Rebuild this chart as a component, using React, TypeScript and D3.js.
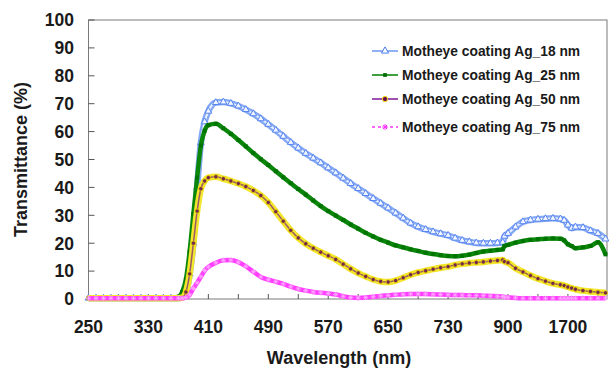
import React from "react";
import * as d3 from "d3";

// Wavelength sample points (nm)
const wavelengths = [
  250, 260, 270, 280, 290, 300, 310, 320, 330, 340, 350, 360, 370,
  375, 380, 385, 390, 395, 400, 405, 410,
  420, 430, 440, 450, 460, 470, 480, 490, 500, 510,
  520, 530, 540, 550, 560, 570, 580, 590, 600, 610,
  620, 630, 640, 650, 660, 670, 680, 690, 700, 710,
  720, 730,
  750, 770, 790, 810, 830, 850, 870,
  885, 890, 900,
  1000, 1100, 1200, 1300, 1400, 1500, 1600, 1650, 1700,
  1750, 1800, 1900, 2000, 2100, 2200,
];

const ag18 = [
  0.3, 0.3, 0.3, 0.3, 0.3, 0.3, 0.3, 0.3, 0.3, 0.3, 0.3, 0.3, 0.3,
  0.6, 2, 9, 20, 40, 56, 63.5, 67.3,
  70.4, 70.6, 70.1, 69.2, 67.9, 66.4, 64.6, 62.6, 60.5, 58.3,
  56.1, 54.1, 52.2, 50.5, 48.8, 47, 45.2, 43.3, 41.4, 39.6,
  37.8, 36, 34.3, 32.6, 30.8, 29, 27.2, 25.9, 24.9, 24.1,
  23.4, 22.8,
  21.8, 21, 20.5, 20.1, 20, 20, 20.1,
  20.3, 22.5, 23.5,
  25.8, 27.7, 28.3, 28.6, 28.8, 28.9, 28.7, 28.2, 26.5,
  25.4, 25.8, 25.6, 24.5, 23.5, 21.5,
];

const ag25 = [
  0.3, 0.3, 0.3, 0.3, 0.3, 0.3, 0.3, 0.3, 0.3, 0.3, 0.3, 0.3, 0.8,
  2.5, 7, 17, 30.5, 43.5, 55, 60.3, 62.3,
  62.8, 61.2, 59.2, 57, 54.7, 52.3, 50.1, 48, 45.8, 43.6,
  41.5, 39.4, 37.4, 35.3, 33.3, 31.5, 29.9, 28.3, 26.7, 25.2,
  23.7, 22.4, 21.2, 20.2, 19.2, 18.5, 17.8, 17.2, 16.6, 16.1,
  15.7, 15.4,
  15.3, 15.5, 15.9, 16.5, 17, 17.3, 17.6,
  17.8, 19, 19.4,
  20.2, 20.8, 21.2, 21.4, 21.6, 21.7, 21.6, 21, 19.6,
  19, 18.2, 18.5, 19, 20.3, 16,
];

const ag50 = [
  0.3, 0.3, 0.3, 0.3, 0.3, 0.3, 0.3, 0.3, 0.3, 0.3, 0.3, 0.3, 0.3,
  0.5, 2.5, 9, 20, 31.5, 39.5, 42.3, 43.5,
  43.8, 43.1, 42.3, 41.4, 40.3, 38.9, 37.1, 34.6, 31.3, 27.9,
  24.6, 21.9, 19.8, 18.2, 16.8, 15.5, 14.2, 12.5, 10.8, 9.3,
  8.1, 7, 6.3, 6.1, 6.6, 7.6, 8.7, 9.5, 10.1, 10.7,
  11.2, 11.6,
  12.2, 12.6, 12.9, 13.1, 13.3, 13.6, 13.8,
  14, 13.4, 13,
  11, 9.7, 8.4, 7.3, 6.4, 5.6, 5.1, 4.8, 4.3,
  3.9, 3.5, 3, 2.7, 2.4, 2.2,
];

const ag75 = [
  0.3, 0.3, 0.3, 0.3, 0.3, 0.3, 0.3, 0.3, 0.3, 0.3, 0.3, 0.3, 0.3,
  0.3, 0.5, 1.5, 3.8, 5.8, 8, 10.2, 11.5,
  13, 13.9, 14, 13.2, 11.7, 9.8, 7.9, 6.9, 6.2, 5.4,
  4.4, 3.6, 3, 2.5, 2.2, 2, 1.6, 1, 0.5, 0.4,
  0.5, 0.8, 1.1, 1.3, 1.5, 1.7, 1.8, 1.8, 1.8, 1.7,
  1.6, 1.5,
  1.4, 1.4, 1.3, 1.3, 1.2, 1.1, 1,
  0.9, 0.7, 0.6,
  0.4, 0.3, 0.3, 0.3, 0.3, 0.3, 0.3, 0.3, 0.3,
  0.3, 0.3, 0.3, 0.3, 0.3, 0.3,
];

const seriesNames = [
  "Motheye coating Ag_18 nm",
  "Motheye coating Ag_25 nm",
  "Motheye coating Ag_50 nm",
  "Motheye coating Ag_75 nm",
];

const yTicks = [0, 10, 20, 30, 40, 50, 60, 70, 80, 90, 100];
const xTickLabels = [250, 330, 410, 490, 570, 650, 730, 900, 1700];
const xMinorTicks = [290, 370, 450, 530, 610, 690, 815, 1300, 2100];

const FONT = "'Liberation Sans', Arial, Helvetica, sans-serif";

function asterisk(s: number) {
  const d = s * 0.7;
  return `M${-s},0L${s},0M0,${-s}L0,${s}M${-d},${-d}L${d},${d}M${-d},${d}L${d},${-d}`;
}

export default function App() {
  const width = 609;
  const height = 374;
  const left = 88.5;
  const right = 607;
  const top = 20;
  const bottom = 299;

  const x = d3
    .scaleLinear()
    .domain([250, 730, 900, 1700, 2220])
    .range([left, 448.1, 508.0, 567.9, right]);
  const y = d3.scaleLinear().domain([0, 100]).range([bottom, top]);

  const mk = (vals: number[]) =>
    wavelengths.map((w, i) => [w, vals[i]] as [number, number]);

  const line = d3
    .line<[number, number]>()
    .x((d) => x(d[0]))
    .y((d) => y(d[1]))
    .curve(d3.curveMonotoneX);

  const tri = d3.symbol().type(d3.symbolTriangle).size(20)()!;
  const sq = d3.symbol().type(d3.symbolSquare).size(16)()!;
  const sqLeg = d3.symbol().type(d3.symbolSquare).size(14)()!;
  const triLeg = d3.symbol().type(d3.symbolTriangle).size(22)()!;

  const d18 = mk(ag18);
  const d25 = mk(ag25);
  const d50 = mk(ag50);
  const d75 = mk(ag75);

  const legendRows = [51, 75, 99, 127];
  const legX0 = 372;
  const legX1 = 398;
  const legMid = 385;

  return (
    <svg
      width={width}
      height={height}
      style={{ position: "absolute", left: 0, top: 0, background: "#fff" }}
      fontFamily={FONT}
    >
      <rect x={0} y={0} width={width} height={height} fill="#fff" />
      {/* frame */}
      <rect
        x={left}
        y={top}
        width={right - left}
        height={bottom - top}
        fill="none"
        stroke="#7a7a7a"
        strokeWidth={1}
      />
      {/* y ticks */}
      {yTicks.map((t) => (
        <g key={"y" + t}>
          <line x1={left} x2={left + 6} y1={y(t)} y2={y(t)} stroke="#555" />
          <text
            x={74}
            y={y(t)}
            dy="0.36em"
            textAnchor="end"
            fontSize={17.5}
            fontWeight="bold"
            fill="#1a1a1a"
          >
            {t}
          </text>
        </g>
      ))}
      {/* x ticks */}
      {[...xTickLabels, ...xMinorTicks].map((t) => (
        <line
          key={"xt" + t}
          x1={x(t)}
          x2={x(t)}
          y1={bottom}
          y2={bottom - 5}
          stroke="#555"
        />
      ))}
      {xTickLabels.map((t) => (
        <text
          key={"xl" + t}
          x={x(t)}
          y={333}
          textAnchor="middle"
          fontSize={17.5}
          fontWeight="bold"
          fill="#1a1a1a"
        >
          {t}
        </text>
      ))}
      {/* axis titles */}
      <text
        x={339}
        y={364}
        textAnchor="middle"
        fontSize={18}
        fontWeight="bold"
        fill="#1a1a1a"
      >
        Wavelength (nm)
      </text>
      <text
        transform={`translate(27,${(top + bottom) / 2}) rotate(-90)`}
        textAnchor="middle"
        fontSize={18}
        fontWeight="bold"
        fill="#1a1a1a"
      >
        Transmittance (%)
      </text>

      {/* Ag 18 nm */}
      <path d={line(d18)!} fill="none" stroke="#85a8f5" strokeWidth={6.5} />
      <path d={line(d18)!} fill="none" stroke="#eaf1ff" strokeWidth={2} />
      {d18.map((d, i) => (
        <path
          key={"m18" + i}
          d={tri}
          transform={`translate(${x(d[0])},${y(d[1])})`}
          fill="#f2f6ff"
          stroke="#4a7cf0"
          strokeWidth={0.9}
        />
      ))}

      {/* Ag 25 nm */}
      <path d={line(d25)!} fill="none" stroke="#0a860a" strokeWidth={4.5} />
      {d25.map((d, i) => (
        <path
          key={"m25" + i}
          d={sq}
          transform={`translate(${x(d[0])},${y(d[1])})`}
          fill="#007400"
        />
      ))}

      {/* Ag 50 nm */}
      <path d={line(d50)!} fill="none" stroke="#f4e62c" strokeWidth={6.5} />
      <path d={line(d50)!} fill="none" stroke="#9a5a6a" strokeWidth={1.5} />
      {d50.map((d, i) => (
        <circle
          key={"m50" + i}
          cx={x(d[0])}
          cy={y(d[1])}
          r={2.2}
          fill="#74284e"
          stroke="#eedd00"
          strokeWidth={0.8}
        />
      ))}

      {/* Ag 75 nm */}
      <path d={line(d75)!} fill="none" stroke="#ff3cff" strokeWidth={4.5} />
      {d75.map((d, i) => (
        <path
          key={"m75" + i}
          d={asterisk(2.6)}
          transform={`translate(${x(d[0])},${y(d[1])})`}
          fill="none"
          stroke="#ffa8ff"
          strokeWidth={0.9}
        />
      ))}

      {/* legend */}
      <g>
        <line x1={legX0} x2={legX1} y1={legendRows[0]} y2={legendRows[0]} stroke="#6d97f2" strokeWidth={1.5} />
        <path d={triLeg} transform={`translate(${legMid},${legendRows[0]})`} fill="#fff" stroke="#4a7cf0" strokeWidth={1} />
        <line x1={legX0} x2={legX1} y1={legendRows[1]} y2={legendRows[1]} stroke="#008000" strokeWidth={1.5} />
        <path d={sqLeg} transform={`translate(${legMid},${legendRows[1]})`} fill="#006a00" />
        <line x1={legX0} x2={legX1} y1={legendRows[2]} y2={legendRows[2]} stroke="#a050b0" strokeWidth={2} />
        <circle cx={legMid} cy={legendRows[2]} r={2.6} fill="#6a0a5a" stroke="#f0dc00" strokeWidth={1} />
        <line x1={legX0} x2={legX1} y1={legendRows[3]} y2={legendRows[3]} stroke="#ff33ff" strokeWidth={1.5} strokeDasharray="3,3" />
        <path d={asterisk(3)} transform={`translate(${legMid},${legendRows[3]})`} fill="none" stroke="#ff33ff" strokeWidth={1} />
        {seriesNames.map((n, i) => (
          <text
            key={n}
            x={402}
            y={legendRows[i]}
            dy="0.36em"
            fontSize={13.8}
            fontWeight="bold"
            fill="#1a1a1a"
          >
            {n}
          </text>
        ))}
      </g>
    </svg>
  );
}
